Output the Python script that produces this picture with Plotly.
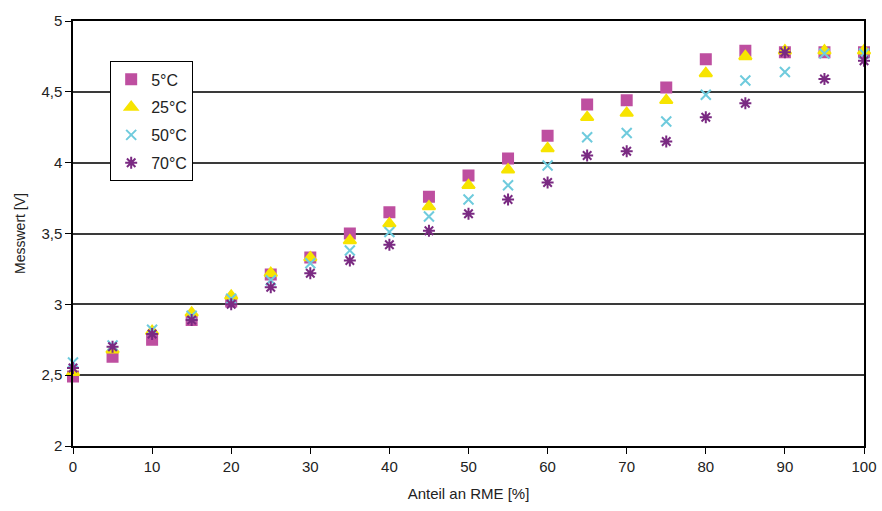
import plotly.graph_objects as go

x_vals = [0, 5, 10, 15, 20, 25, 30, 35, 40, 45, 50, 55, 60, 65, 70, 75, 80, 85, 90, 95, 100]

s5 = [2.49, 2.63, 2.75, 2.89, 3.02, 3.21, 3.33, 3.50, 3.65, 3.76, 3.91, 4.03, 4.19, 4.41, 4.44, 4.53, 4.73, 4.79, 4.78, 4.78, 4.78]
s25 = [2.52, 2.68, 2.81, 2.94, 3.06, 3.22, 3.33, 3.45, 3.57, 3.69, 3.84, 3.95, 4.10, 4.32, 4.35, 4.44, 4.63, 4.75, 4.79, 4.79, 4.79]
s50 = [2.59, 2.71, 2.82, 2.92, 3.04, 3.17, 3.29, 3.38, 3.51, 3.62, 3.74, 3.84, 3.98, 4.18, 4.21, 4.29, 4.48, 4.58, 4.64, 4.77, 4.77]
s70 = [2.55, 2.70, 2.79, 2.89, 3.00, 3.12, 3.22, 3.31, 3.42, 3.52, 3.64, 3.74, 3.86, 4.05, 4.08, 4.15, 4.32, 4.42, 4.78, 4.59, 4.72]

names = ["5°C", "25°C", "50°C", "70°C"]
series = [s5, s25, s50, s70]
symbols = ["square", "triangle-up", "x-thin-open", "asterisk-open"]
colors = ["#BE4FA0", "#F7E400", "#6FCBDD", "#7A2A82"]
sizes = [10, 11, 10, 10]

fig = go.Figure()
for i, (nm, ys) in enumerate(zip(names, series)):
    fig.add_trace(go.Scatter(
        x=x_vals, y=ys, mode="markers", name=nm, legendgroup=nm,
        marker=dict(symbol=symbols[i], color=colors[i], size=sizes[i],
                    line=dict(color=colors[i], width=2)),
        cliponaxis=False,
    ))

font_main = "Liberation Sans, Arial, sans-serif"

fig.update_layout(
    width=882, height=511,
    margin=dict(l=73, r=18, t=21, b=65, autoexpand=False),
    paper_bgcolor="white", plot_bgcolor="white",
    separators=",.",
    font=dict(family=font_main, size=14, color="#222"),
    showlegend=True,
    legend=dict(
        x=0.047, y=0.905, xanchor="left", yanchor="top",
        bgcolor="white", bordercolor="black", borderwidth=1,
        font=dict(family=font_main, size=16, color="#222"),
        traceorder="grouped", tracegroupgap=4,
        itemwidth=30,
    ),
    xaxis=dict(
        range=[0, 100], tickvals=list(range(0, 101, 10)),
        showgrid=False, zeroline=False, automargin=False,
        showline=True, linecolor="black", linewidth=1.5, mirror=True,
        ticks="outside", ticklen=6, tickcolor="black", tickwidth=1,
        tickfont=dict(family=font_main, size=15, color="#222"),
        title=dict(text="Anteil an RME [%]", font=dict(family=font_main, size=15, color="#222"), standoff=15),
    ),
    yaxis=dict(
        range=[2, 5], tickvals=[2, 2.5, 3, 3.5, 4, 4.5, 5],
        ticktext=["2", "2,5", "3", "3,5", "4", "4,5", "5"],
        showgrid=True, gridcolor="#3a3a3a", gridwidth=1.5, zeroline=False, automargin=False,
        showline=True, linecolor="black", linewidth=1.5, mirror=True,
        ticks="outside", ticklen=6, tickcolor="black", tickwidth=1,
        tickfont=dict(family=font_main, size=15, color="#222"),
        title=dict(text="Messwert [V]", font=dict(family=font_main, size=14, color="#222"), standoff=12),
    ),
)

fig.write_html("out.html")
